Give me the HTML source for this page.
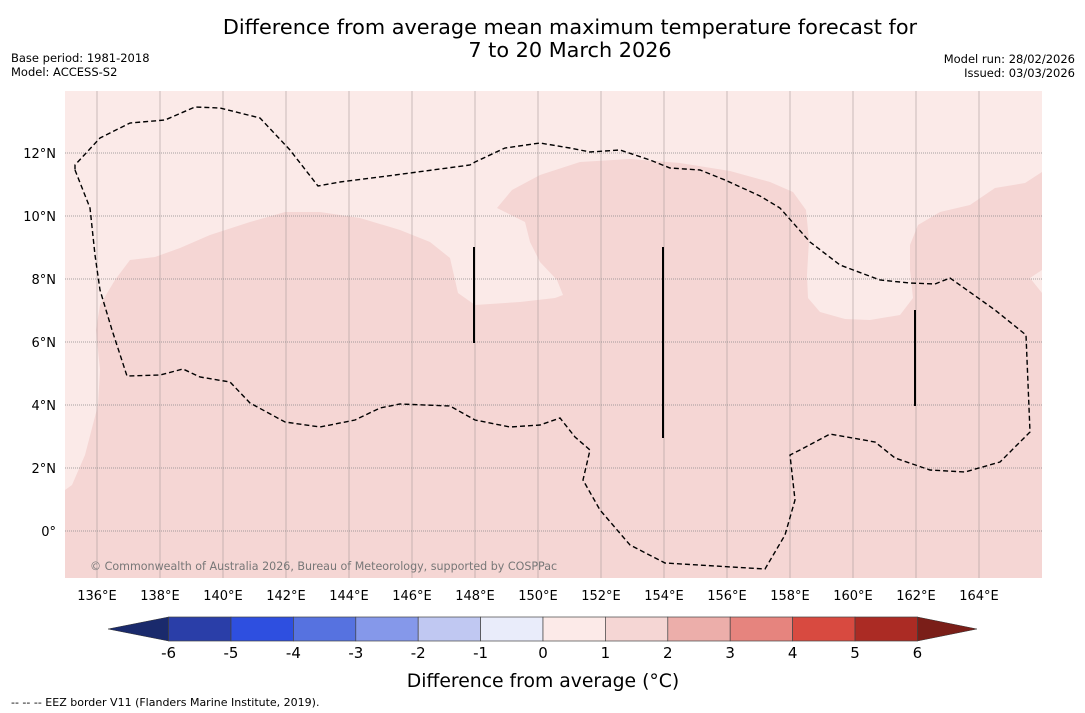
<!DOCTYPE html>
<html><head><meta charset="utf-8"><style>
body{margin:0;background:#fff;width:1085px;height:713px;overflow:hidden;font-family:"DejaVu Sans","Liberation Sans",sans-serif;}
svg{position:absolute;left:0;top:0}
</style></head><body>
<svg width="1085" height="713" font-family="DejaVu Sans, Liberation Sans, sans-serif">
<text x="570" y="34" text-anchor="middle" font-size="20.8">Difference from average mean maximum temperature forecast for</text>
<text x="570" y="57" text-anchor="middle" font-size="20.8">7 to 20 March 2026</text>
<text x="11" y="62" font-size="11.5">Base period: 1981-2018</text>
<text x="11" y="76" font-size="11.5">Model: ACCESS-S2</text>
<text x="1075" y="63" font-size="11.5" text-anchor="end">Model run: 28/02/2026</text>
<text x="1075" y="77" font-size="11.5" text-anchor="end">Issued: 03/03/2026</text>
<g id="map">
<rect x="65" y="91" width="977" height="487" fill="#fbeae8"/>
<polygon fill="#f5d6d4" points="65,490 72,485 85,455 98,405 100,370 96,330 100,305 115,280 130,260 155,257 180,248 210,235 250,222 285,212 320,212 360,218 400,230 430,242 450,258 458,293 475,305 520,302 555,298 563,295 557,280 540,262 530,242 525,222 497,208 512,190 540,175 580,162 630,159 680,163 730,171 770,182 793,192 806,210 809,240 807,275 808,298 820,312 845,319 870,320 900,315 913,298 910,270 910,245 918,225 940,212 970,205 995,188 1025,183 1042,172 1042,270 1030,278 1042,293 1042,578 65,578"/>
<g id="grid"></g>
<polyline fill="none" stroke="#000" stroke-width="1.4" stroke-dasharray="5,3" points="75,170 90,208 95,255 100,290 112,330 127,376 160,375 183,369 200,377 230,382 250,403 285,422 320,427 355,420 380,408 400,404 450,406 475,420 510,427 540,425 560,418 575,437 590,450 583,480 600,510 630,545 665,563 765,569 785,535 795,500 790,455 800,450 830,434 875,442 895,458 930,470 965,472 1000,462 1030,432 1026,335 995,310 950,278 935,284 910,283 880,280 840,265 810,242 780,208 760,196 725,180 700,170 670,168 650,160 620,150 590,152 570,148 540,143 505,148 475,162 470,165 395,175 340,182 318,186 290,150 260,118 220,108 195,107 165,120 130,123 100,138 75,165 75,170"/>
<line x1="474" y1="247" x2="474" y2="343" stroke="#000" stroke-width="2"/>
<line x1="663" y1="247" x2="663" y2="438" stroke="#000" stroke-width="2"/>
<line x1="915" y1="310" x2="915" y2="406" stroke="#000" stroke-width="2"/>
<text x="90" y="570" font-size="11.1" fill="#777">© Commonwealth of Australia 2026, Bureau of Meteorology, supported by COSPPac</text>
</g>
<g id="xlabels"></g><g id="ylabels"></g>
<g id="cbar"></g>
<text x="543" y="687" text-anchor="middle" font-size="18.8">Difference from average (°C)</text>
<text x="11" y="706" font-size="11">--  --  -- EEZ border V11 (Flanders Marine Institute, 2019).</text>
</svg>
<script>
const lonTicks=[136,138,140,142,144,146,148,150,152,154,156,158,160,162,164];
const latTicks=[12,10,8,6,4,2,0];
const cbarBounds=[-6,-5,-4,-3,-2,-1,0,1,2,3,4,5,6];
const cbarColors=["#2a3ea8","#2e4fe0","#5672e0","#8598ea","#c0c8f2","#e9ecfa","#fceae8","#f5d6d4","#ecaeaa","#e6847e","#d84a40","#ab2b24"];
const NS="http://www.w3.org/2000/svg";
const xs=lon=>97+(lon-136)*31.5;
const ys=lat=>531-lat*31.5;
const grid=document.getElementById('grid'),xl=document.getElementById('xlabels'),yl=document.getElementById('ylabels'),cb=document.getElementById('cbar');
function mk(tag,at,parent){const e=document.createElementNS(NS,tag);for(const k in at)e.setAttribute(k,at[k]);parent.appendChild(e);return e;}
lonTicks.forEach(l=>{
 const ln=mk('line',{x1:xs(l),x2:xs(l),y1:91,y2:578,stroke:'#a89a9a','stroke-width':0.6},grid);
 
 
 const t=mk('text',{x:xs(l),y:600,'text-anchor':'middle','font-size':13},xl);
 t.textContent=l+'°E';
 
 
});
latTicks.forEach(l=>{
 const ln=mk('line',{x1:65,x2:1042,y1:ys(l),y2:ys(l),stroke:'#888','stroke-width':0.8,'stroke-dasharray':'1,1'},grid);
 
 
 const t=mk('text',{x:56,y:ys(l)+5,'text-anchor':'end','font-size':13},yl);
 t.textContent=l===0?'0°':l+'°N';
 
 
});
const cx=v=>543+v*62.4;
const tri1=mk('polygon',{points:`${cx(-6)},617 ${cx(-6)},641 108,629`,fill:'#1a2a6c',stroke:'#333','stroke-width':0.5},cb);


const tri2=mk('polygon',{points:`${cx(6)},617 ${cx(6)},641 977,629`,fill:'#7a1e18',stroke:'#333','stroke-width':0.5},cb);


cbarColors.forEach((c,i)=>{
 const r=mk('rect',{x:cx(cbarBounds[i]),y:617,width:cx(cbarBounds[i+1])-cx(cbarBounds[i]),height:24,fill:c,stroke:'#444','stroke-width':0.7},cb);
 
 
});
cbarBounds.forEach(v=>{
 const t=mk('text',{x:cx(v),y:658,'text-anchor':'middle','font-size':15},cb);
 t.textContent=v;
 
 
});
</script>
</body></html>
